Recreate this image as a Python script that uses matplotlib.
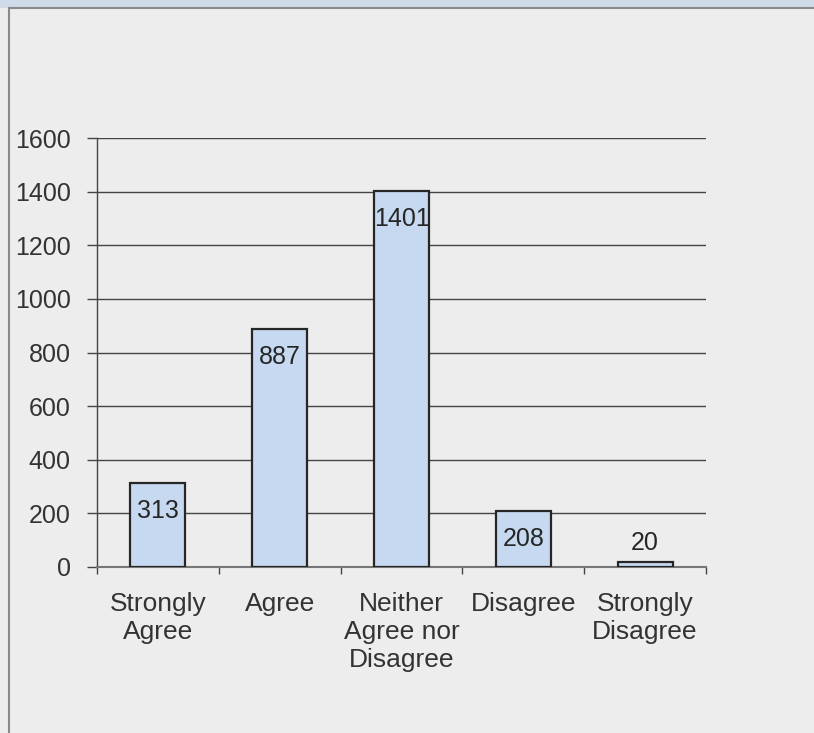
"""
Survey responses bar chart (Excel style)
"""

import matplotlib.pyplot as plt
from matplotlib.lines import Line2D
from matplotlib.patches import Rectangle

categories = ["Strongly\nAgree", "Agree", "Neither\nAgree nor\nDisagree", "Disagree", "Strongly\nDisagree"]
counts = [313, 887, 1401, 208, 20]
y_ticks = [0, 200, 400, 600, 800, 1000, 1200, 1400, 1600]

plt.rcParams["font.family"] = ["Liberation Sans", "DejaVu Sans"]

fig = plt.figure(figsize=[8.14, 7.33], dpi=100)
fig.patch.set_facecolor("#ededed")

# 顶部蓝色条 + 灰色边框
top_y = 1 - 8 / 733
left_x = 9 / 814
fig.add_artist(Rectangle((0, top_y), 1.0, 1 - top_y, transform=fig.transFigure,
                         facecolor="#cfdbe8", edgecolor="none", zorder=-1))
fig.add_artist(Line2D([left_x, 1.0], [top_y, top_y], transform=fig.transFigure,
                      color="#8a8a8a", linewidth=1.5, zorder=-1))
fig.add_artist(Line2D([left_x, left_x], [0, top_y], transform=fig.transFigure,
                      color="#8a8a8a", linewidth=1.5, zorder=-1))

ax = fig.add_axes([97 / 814, 1 - 567 / 733, 609 / 814, 429 / 733])
ax.set_facecolor("none")

x = list(range(len(categories)))
bars = ax.bar(x, counts, width=0.45, color="#c6d9f0", edgecolor="#262626", linewidth=1.6, zorder=3)

# 数据标签
for xi, v in zip(x, counts):
    if v < 100:
        ax.annotate(str(v), (xi, v), xytext=(0, 5), textcoords="offset points",
                    ha="center", va="bottom", fontsize=18, color="#262626", zorder=4)
    else:
        ax.annotate(str(v), (xi, v), xytext=(0, -20), textcoords="offset points",
                    ha="center", va="center", fontsize=18, color="#262626", zorder=4)

ax.set_xlim(-0.5, len(categories) - 0.5)
ax.set_ylim(0, 1600)
ax.set_yticks(y_ticks)
ax.set_yticklabels([str(t) for t in y_ticks], fontsize=18, color="#333333")
ax.yaxis.grid(True, color="#444444", linewidth=1.0, zorder=1)
ax.tick_params(axis="y", length=7, width=1.0, color="#444444", pad=12)

# x轴刻度在类别边界上
ax.set_xticks([i - 0.5 for i in range(len(categories) + 1)])
ax.set_xticklabels([""] * (len(categories) + 1))
ax.set_xticks(x, minor=True)
ax.set_xticklabels(categories, minor=True, fontsize=19, color="#333333", linespacing=1.22)
ax.tick_params(axis="x", which="major", length=5, width=1.0, color="#444444", direction="out")
ax.tick_params(axis="x", which="minor", length=0, pad=18)

for side in ["top", "right"]:
    ax.spines[side].set_visible(False)
ax.spines["left"].set_color("#444444")
ax.spines["bottom"].set_color("#777777")
ax.spines["left"].set_linewidth(1.0)
ax.spines["bottom"].set_linewidth(1.5)
ax.set_axisbelow(True)

fig.savefig("out.png", dpi=100, facecolor=fig.get_facecolor())
